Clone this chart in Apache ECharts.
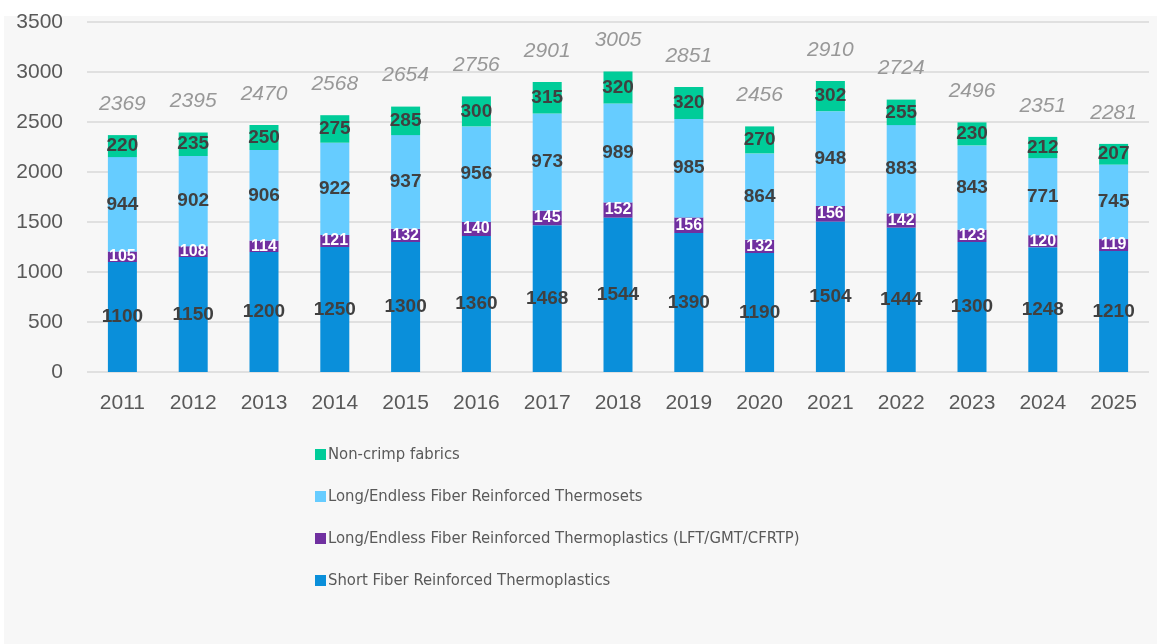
<!DOCTYPE html>
<html>
<head>
<meta charset="utf-8">
<script src="https://cdn.jsdelivr.net/npm/echarts@6/dist/echarts.min.js"></script>
<style>
  html, body { margin: 0; padding: 0; background: #ffffff; }
  #panel { position: absolute; left: 4px; top: 16px; width: 1153px; height: 628px; background: #f7f7f7; }
  #chart { position: absolute; left: 0; top: 0; width: 1157px; height: 644px; }
</style>
</head>
<body>
<div id="panel"></div>
<div id="chart"></div>
<script>
// 年份
const years = ["2011", "2012", "2013", "2014", "2015", "2016", "2017", "2018",
  "2019", "2020", "2021", "2022", "2023", "2024", "2025"];

// 各系列数值
const shortFiber = [1100, 1150, 1200, 1250, 1300, 1360, 1468, 1544, 1390, 1190, 1504, 1444, 1300, 1248, 1210];
const longThermoplastics = [105, 108, 114, 121, 132, 140, 145, 152, 156, 132, 156, 142, 123, 120, 119];
const longThermosets = [944, 902, 906, 922, 937, 956, 973, 989, 985, 864, 948, 883, 843, 771, 745];
const nonCrimp = [220, 235, 250, 275, 285, 300, 315, 320, 320, 270, 302, 255, 230, 212, 207];

// 柱顶总计
const totals = [2369, 2395, 2470, 2568, 2654, 2756, 2901, 3005, 2851, 2456, 2910, 2724, 2496, 2351, 2281];

const names = [
  "Short Fiber Reinforced Thermoplastics",
  "Long/Endless Fiber Reinforced Thermoplastics (LFT/GMT/CFRTP)",
  "Long/Endless Fiber Reinforced Thermosets",
  "Non-crimp fabrics",
];

const font = "'Liberation Sans', Arial, sans-serif";
const narrow = "'DejaVu Sans Condensed', sans-serif";

function barSeries(name, data, color, labelColor, labelSize) {
  return {
    name: name,
    type: "bar",
    stack: "total",
    barWidth: 29,
    data: data,
    itemStyle: { color: color },
    label: {
      show: true,
      position: "inside",
      color: labelColor,
      fontWeight: "bold",
      fontSize: labelSize,
      fontFamily: font,
    },
  };
}

let chart = echarts.init(document.getElementById("chart"));
let option = {
  backgroundColor: "transparent",
  animation: false,
  grid: { left: 87, right: 8, top: 22, bottom: 272 },
  legend: {
    orient: "vertical",
    left: 310,
    top: 441,
    itemWidth: 11,
    itemHeight: 11,
    itemGap: 25,
    icon: "rect",
    data: [names[3], names[2], names[1], names[0]],
    textStyle: { color: "#595959", fontSize: 16.5, fontFamily: narrow, padding: [0, 0, 0, -3] },
  },
  xAxis: {
    type: "category",
    data: years,
    axisLine: { show: false },
    axisTick: { show: false },
    axisLabel: { color: "#595959", fontSize: 21, fontFamily: font, margin: 21 },
  },
  yAxis: {
    type: "value",
    min: 0,
    max: 3500,
    interval: 500,
    axisLine: { show: false },
    axisTick: { show: false },
    axisLabel: {
      color: "#595959", fontSize: 21, fontFamily: font, margin: 24,
      formatter: function (v) { return String(v); },
    },
    splitLine: { lineStyle: { color: "#d9d9d9", width: 1.5 } },
  },
  series: [
    barSeries(names[0], shortFiber, "#0A8FDA", "#404040", 19),
    barSeries(names[1], longThermoplastics, "#7030A0", "#ffffff", 16),
    barSeries(names[2], longThermosets, "#66CCFF", "#404040", 19),
    barSeries(names[3], nonCrimp, "#00CC99", "#404040", 19),
    {
      name: "total",
      type: "scatter",
      data: totals,
      symbolSize: 1,
      itemStyle: { color: "rgba(0,0,0,0)" },
      label: {
        show: true,
        position: "top",
        distance: 20,
        color: "#7f7f7f",
        fontStyle: "italic",
        fontSize: 21,
        fontFamily: font,
      },
    },
  ],
};
chart.setOption(option);
</script>
</body>
</html>
